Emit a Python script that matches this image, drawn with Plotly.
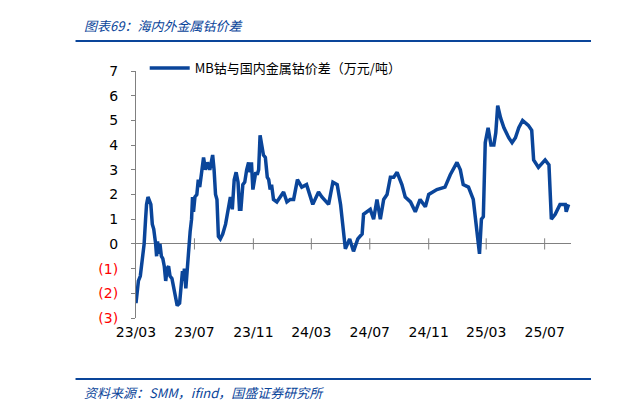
import plotly.graph_objects as go

dates = ["2023-03-01","2023-03-06","2023-03-10","2023-03-14","2023-03-18","2023-03-21","2023-03-23","2023-03-26","2023-03-29","2023-04-01",
"2023-04-04","2023-04-07","2023-04-11","2023-04-13","2023-04-15","2023-04-18","2023-04-20","2023-04-23","2023-04-26","2023-04-29",
"2023-05-02","2023-05-05","2023-05-08","2023-05-11","2023-05-15","2023-05-20","2023-05-26","2023-05-31","2023-06-03","2023-06-06",
"2023-06-08","2023-06-10","2023-06-13","2023-06-15","2023-06-17","2023-06-19","2023-06-22","2023-06-25","2023-06-27","2023-06-29",
"2023-07-02","2023-07-06","2023-07-09","2023-07-12","2023-07-16","2023-07-20","2023-07-24","2023-07-28","2023-08-02","2023-08-08",
"2023-08-11","2023-08-14","2023-08-17","2023-08-20","2023-08-24","2023-08-29","2023-09-04","2023-09-10","2023-09-14","2023-09-18",
"2023-09-22","2023-09-26","2023-09-30","2023-10-03","2023-10-06","2023-10-10","2023-10-14","2023-10-18","2023-10-22","2023-10-25",
"2023-10-28","2023-10-31","2023-11-03","2023-11-06","2023-11-09","2023-11-12","2023-11-15","2023-11-18","2023-11-22","2023-11-26",
"2023-11-30","2023-12-03","2023-12-06","2023-12-09","2023-12-13","2023-12-20","2023-12-27","2024-01-03","2024-01-10","2024-01-17",
"2024-01-24","2024-02-01","2024-02-10","2024-02-20","2024-03-04","2024-03-16","2024-03-23","2024-04-06","2024-04-15","2024-04-24",
"2024-05-01","2024-05-08","2024-05-11","2024-05-20","2024-05-28","2024-06-06","2024-06-15","2024-06-18","2024-06-25","2024-07-02",
"2024-07-09","2024-07-16","2024-07-23","2024-07-30","2024-08-06","2024-08-13","2024-08-20","2024-08-27","2024-09-06","2024-09-13",
"2024-09-24","2024-10-04","2024-10-14","2024-10-25","2024-11-01","2024-11-18","2024-12-05","2024-12-16","2024-12-30","2025-01-06",
"2025-01-12","2025-01-23","2025-02-02","2025-02-10","2025-02-15","2025-02-19","2025-02-23","2025-02-27","2025-03-05","2025-03-11",
"2025-03-17","2025-03-21","2025-03-25","2025-03-31","2025-04-07","2025-04-17","2025-04-24","2025-05-01","2025-05-08","2025-05-16",
"2025-05-28","2025-06-04","2025-06-08","2025-06-18","2025-07-02","2025-07-10","2025-07-15","2025-07-23","2025-08-02","2025-08-13",
"2025-08-15","2025-08-20"]
values = [-2.4,-1.5,-1.3,-0.5,0.0,1.0,1.6,1.9,1.7,1.6,
0.8,0.6,0.0,-0.5,0.1,-0.4,0.0,-0.5,-0.6,-0.9,
-1.5,-1.0,-0.9,-1.3,-1.4,-1.9,-2.5,-2.4,-1.6,-1.1,
-1.5,-1.0,-1.8,-1.2,-0.5,0.0,0.5,1.0,1.9,1.3,
1.9,2.0,2.6,2.3,2.8,3.5,3.0,3.3,3.0,3.6,
3.0,2.0,1.8,0.3,0.2,0.4,0.8,1.6,1.9,1.4,
2.6,2.9,2.5,1.4,1.4,2.4,2.5,3.0,3.3,2.9,
3.3,2.2,2.6,2.9,2.8,3.0,4.4,4.0,3.6,3.5,
2.7,2.6,2.2,2.4,1.8,1.7,1.9,2.1,1.7,1.8,
1.8,2.6,2.3,2.4,1.6,2.1,1.9,1.6,2.5,2.4,
1.6,0.3,-0.2,0.2,-0.3,0.2,0.4,1.2,1.3,1.4,
1.0,1.8,1.0,1.8,2.0,2.7,2.7,2.9,2.4,1.9,
1.7,1.3,1.8,1.5,2.0,2.2,2.3,2.8,3.3,3.0,
2.4,2.3,1.8,0.5,-0.4,1.0,1.1,4.1,4.7,4.0,
4.0,4.5,5.6,5.1,4.7,4.3,4.1,4.3,4.7,5.0,
4.8,4.6,3.4,3.1,3.4,3.2,1.0,1.2,1.6,1.6,
1.3,1.6]

tick_dates = ["2023-03-01","2023-07-01","2023-11-01","2024-03-01","2024-07-01","2024-11-01","2025-03-01","2025-07-01"]
tick_labels = ["23/03","23/07","23/11","24/03","24/07","24/11","25/03","25/07"]
y_ticks = [-3,-2,-1,0,1,2,3,4,5,6,7]
y_labels = ["<span style='color:#ff0000'>(3)</span>","<span style='color:#ff0000'>(2)</span>","<span style='color:#ff0000'>(1)</span>",
            "0","1","2","3","4","5","6","7"]

blue = "#0a459a"
fig = go.Figure()
fig.add_trace(go.Scatter(x=dates, y=values, mode="lines", name="MB钴与国内金属钴价差（万元/吨）",
                         line=dict(color=blue, width=3.5)))
fig.add_trace(go.Scatter(x=tick_dates[1:], y=[0]*7, mode="markers", showlegend=False, hoverinfo="skip",
                         marker=dict(symbol="line-ns", size=8, line=dict(color="#808080", width=1))))

font = "Noto Sans CJK SC"
fig.update_layout(
    width=622, height=403, paper_bgcolor="white", plot_bgcolor="white",
    margin=dict(l=128, r=59, t=63, b=93, autoexpand=False),
    font=dict(family=font, size=14, color="black"),
    showlegend=True,
    legend=dict(x=0.02, y=1-60/403, yref="container", xanchor="left", yanchor="middle",
                bgcolor="rgba(0,0,0,0)", font=dict(size=13), itemwidth=40),
    xaxis=dict(range=["2023-03-01","2025-08-25"], tickvals=tick_dates, ticktext=tick_labels,
               showgrid=False, showline=False, ticks="", zeroline=False, automargin=False,
               tickfont=dict(size=14, family="DejaVu Sans"), ticklabelstandoff=4),
    yaxis=dict(range=[-3,7], tickvals=y_ticks, ticktext=y_labels, showgrid=False, automargin=False,
               showline=True, linecolor="#808080", linewidth=1, ticks="outside", ticklen=4,
               tickcolor="#808080", zeroline=True, zerolinecolor="#808080", zerolinewidth=1,
               tickfont=dict(size=14, family="DejaVu Sans"), ticklabelstandoff=10),
    annotations=[
        dict(text="<i>图表69：海内外金属钴价差</i>", xref="paper", yref="paper", x=-0.125, y=(310-17)/247,
             xanchor="left", yanchor="middle", showarrow=False, font=dict(size=13, color=blue)),
        dict(text="<i>资料来源：SMM，ifind，国盛证券研究所</i>", xref="paper", yref="paper", x=-0.125,
             y=(310-384)/247, xanchor="left", yanchor="middle", showarrow=False, font=dict(size=13, color=blue)),
    ],
    shapes=[
        dict(type="line", xref="paper", yref="paper", x0=-0.139, x1=1.046, y0=(310-33)/247, y1=(310-33)/247,
             line=dict(color=blue, width=2)),
        dict(type="line", xref="paper", yref="paper", x0=-0.139, x1=1.046, y0=(310-371)/247, y1=(310-371)/247,
             line=dict(color=blue, width=2)),
    ],
)
fig.write_html("out.html")
